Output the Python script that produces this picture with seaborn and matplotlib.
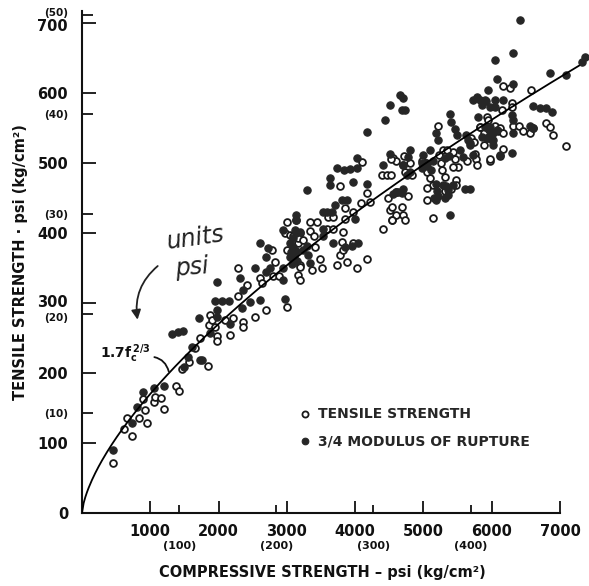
import numpy as np
import pandas as pd
import matplotlib
matplotlib.use("Agg")
import matplotlib.pyplot as plt
import matplotlib.transforms as mtransforms
import seaborn as sns

# ---------------- data (psi) ----------------
tensile_x = [450, 610, 730, 660, 830, 950, 920, 900, 1050, 1070, 1160, 1200, 1375, 1415, 1465, 1570, 1655, 1845, 1730, 1855, 1875,
             1900, 1950, 2095, 2210, 1970, 1970, 2165, 2360, 2360, 2530, 2700, 2290, 2410, 2290, 2600, 2640, 2790, 2830, 2780, 2880,
             3000, 3000, 2970, 3000, 3140, 3190, 3160, 3045, 3190, 3165, 3190,
             4095, 3780, 4170, 4215, 4080, 4390, 4460, 4530, 4560, 4720, 4485, 4510, 4680, 4700, 4535, 4410, 3340, 3440, 3600, 3680,
             3850, 3970, 3850, 3580, 3680, 3820, 3340, 3390, 3090, 3160, 3240, 3410, 3510, 3730, 3880, 4020, 4170, 3780, 3820, 3800,
             3970, 3480, 3190, 3370,
             5215, 5700, 5740, 5830, 5900, 5970, 5750, 5770, 5780, 5630, 5430, 5460, 5510, 5290, 5340, 5230, 5250, 5270, 5310, 5430,
             5480, 4980, 5030, 4600, 4700, 4800, 4520, 4730, 4830, 5050, 5140, 5100, 5320, 5400, 5480, 5140, 5050, 5050, 4770, 4600,
             4540, 4600, 4730, 4540,
             6580, 6170, 6270, 6290, 6290, 6150, 6310, 6400, 6460, 6560, 6610, 6800, 6850, 6900, 7090, 6050, 6120, 6090, 6170, 5925,
             5830, 5880, 6170, 6120, 5970, 5880, 5930, 5950]
tensile_y = [72, 120, 110, 135, 135, 128, 147, 162, 158, 166, 164, 148, 181, 174, 205, 216, 235, 210, 250, 268, 283,
             275, 266, 275, 278, 252, 245, 254, 273, 266, 280, 290, 309, 325, 349, 335, 328, 338, 358, 376, 338,
             294, 376, 399, 416, 418, 399, 385, 397, 354, 340, 333,
             501, 466, 456, 444, 442, 482, 482, 482, 506, 510, 449, 432, 437, 425, 418, 406, 416, 416, 422, 422,
             435, 430, 420, 406, 406, 401, 403, 395, 396, 392, 389, 380, 349, 354, 358, 349, 363, 368, 375, 387,
             385, 363, 351, 347,
             553, 535, 530, 551, 546, 503, 513, 505, 497, 503, 515, 505, 494, 518, 518, 511, 500, 490, 480, 494,
             475, 503, 500, 503, 497, 500, 505, 486, 482, 486, 468, 478, 460, 462, 468, 421, 464, 447, 453, 458,
             437, 425, 418, 418,
             603, 610, 607, 585, 580, 575, 552, 552, 545, 542, 549, 557, 551, 540, 524, 553, 550, 545, 543, 565,
             551, 542, 520, 510, 505, 525, 535, 561]

rupture_x = [450, 730, 805, 900, 1050, 1200, 1490, 1550, 1610, 1730, 1320, 1400, 1480, 1710, 1875,
             1970, 1950, 2050, 2150, 1970, 1970, 2170, 1750, 2340, 2460, 2600, 2360, 2310, 2530, 2700, 2750, 2700, 2600, 2730,
             2950, 2970, 2950, 3045, 3045, 2950, 3140, 3140, 3090, 3090, 3240,
             3290, 3730, 3830, 3920, 4020, 4020, 3630, 3630, 3800, 3880, 3970, 4170, 4410, 4510, 4700, 4600, 4700, 3140, 3530,
             3580, 3710, 3660, 4000, 3530, 3530, 3120, 3190, 3290, 3140, 3060, 3100, 3150, 3070, 3310, 3340, 3680, 3850, 3950, 4040,
             4655, 4700, 4680, 4730, 4510, 4440, 4170, 5390, 5190, 5215, 5410, 5460, 5485, 5720, 5790, 5850, 5920, 5970, 5950, 6070,
             5800, 5620, 5650, 5680, 5970, 6070, 5970, 6020, 6120, 5680, 5730, 5530, 5580, 5370, 5320, 5090, 5140, 5000, 5040, 5110,
             5050, 4800, 4770, 4760, 4800, 4980, 4980, 5190, 5200, 5210, 5150, 5180, 5290, 5330, 5360, 5430, 5360, 5320, 5610, 5680,
             5390, 4630, 4690, 4560,
             6410, 6310, 6050, 7360, 7320, 6850, 7090, 6310, 5830, 5900, 6050, 6170, 6050, 6600, 6700, 6800, 6880, 6290, 6310, 6560,
             6600, 6310, 5900, 5960, 6020, 5860, 5930, 6000, 6020, 6290]
rupture_y = [90, 128, 151, 172, 178, 181, 209, 223, 237, 218, 255, 258, 260, 278, 257,
             330, 303, 303, 303, 290, 280, 270, 218, 292, 301, 304, 318, 335, 349, 344, 350, 366, 385, 378,
             332, 306, 350, 366, 385, 404, 425, 399, 392, 380, 375,
             461, 492, 490, 491, 492, 506, 478, 468, 447, 447, 473, 470, 496, 513, 496, 458, 462, 418, 430,
             430, 440, 430, 420, 406, 396, 404, 401, 381, 374, 372, 365, 360, 355, 368, 357, 385, 380, 381, 385,
             596, 592, 575, 575, 582, 561, 544, 570, 542, 532, 558, 548, 539, 590, 593, 582, 588, 580, 604, 620,
             565, 539, 532, 528, 551, 546, 537, 532, 511, 525, 511, 518, 508, 510, 507, 518, 503, 511, 500, 490,
             495, 518, 508, 482, 486, 493, 500, 470, 460, 452, 449, 447, 468, 466, 461, 468, 454, 449, 463, 463,
             425, 458, 456, 455,
             704, 656, 647, 651, 644, 628, 625, 612, 590, 589, 590, 589, 580, 581, 578, 578, 572, 568, 561, 553,
             549, 542, 551, 546, 542, 537, 535, 532, 525, 514]

# curve 1.7 fc^(2/3)
coef = 1.7
expo = 2.0 / 3.0
curve_max = 7280

psi_xticks = [1000, 2000, 3000, 4000, 5000, 6000, 7000]
kg_xticks = [100, 200, 300, 400]
psi_yticks = [0, 100, 200, 300, 400, 500, 600, 700]
kg_yticks = [10, 20, 30, 40, 50]
KG2PSI = 14.223

# ---------------- plot ----------------
sns.set_style("ticks")
plt.rcParams['font.family'] = ['DejaVu Sans']

fig = plt.figure(figsize=(5.89, 5.86), dpi=100)
W, H = 589, 586
x0, y0 = 82, 513
ax = fig.add_axes([x0 / W, (H - y0) / H, (584 - x0) / W, (y0 - 5) / H])

df_t = pd.DataFrame({"x": tensile_x, "y": tensile_y})
df_r = pd.DataFrame({"x": rupture_x, "y": rupture_y})

sns.scatterplot(data=df_t, x="x", y="y", ax=ax, marker="o", s=24, facecolor="white",
                edgecolor="#1a1a1a", linewidth=1.3, label="TENSILE STRENGTH", zorder=3, clip_on=False)
sns.scatterplot(data=df_r, x="x", y="y", ax=ax, marker="o", s=28, color="#262626",
                edgecolor="#262626", linewidth=0.8, label="3/4 MODULUS OF RUPTURE", zorder=3, clip_on=False)

fc = np.linspace(0, curve_max, 300)
sns.lineplot(x=fc, y=coef * fc ** expo, ax=ax, color="black", linewidth=1.3, zorder=4)

ax.set_xlim(0, 7350)
ax.set_ylim(0, 725)

sns.despine(ax=ax)
for s in ["left", "bottom"]:
    ax.spines[s].set_linewidth(1.5)
    ax.spines[s].set_color("#111111")
ax.spines["bottom"].set_bounds(0, 7000)
ax.spines["left"].set_bounds(0, 716)

ax.set_xticks(psi_xticks)
ax.set_xticklabels([str(v) for v in psi_xticks])
ax.set_xticks([v * KG2PSI for v in kg_xticks], minor=True)
ax.set_xticklabels([f"({v})" for v in kg_xticks], minor=True)
ax.set_yticks(psi_yticks)
ax.set_yticklabels([str(v) for v in psi_yticks])
ax.set_yticks([v * KG2PSI for v in kg_yticks], minor=True)
ax.set_yticklabels([f"({v})" for v in kg_yticks], minor=True)

ax.tick_params(axis="x", which="major", direction="in", length=9, width=1.3,
               labelsize=10.5, pad=8, colors="#111111")
ax.tick_params(axis="x", which="minor", direction="in", length=6, width=1.3,
               labelsize=8, pad=20, colors="#111111")
ax.tick_params(axis="y", which="major", direction="in", length=10, width=1.3,
               labelsize=10.5, pad=10, colors="#111111")
ax.tick_params(axis="y", which="minor", direction="in", length=8, width=1.3,
               labelsize=7.5, pad=10, colors="#111111")
for lab in ax.get_xticklabels(which="both") + ax.get_yticklabels(which="both"):
    lab.set_fontweight("bold")

# small vertical nudges so that neighbouring psi / kg labels do not collide
nudges_minor = {50: 3, 20: -3}
nudges_major = {700: -2, 300: 2}
for lab, v in zip(ax.yaxis.get_minorticklabels(), kg_yticks):
    if v in nudges_minor:
        lab.set_transform(lab.get_transform() + mtransforms.ScaledTranslation(0, nudges_minor[v] / 100, fig.dpi_scale_trans))
for lab, v in zip(ax.yaxis.get_majorticklabels(), psi_yticks):
    if v in nudges_major:
        lab.set_transform(lab.get_transform() + mtransforms.ScaledTranslation(0, nudges_major[v] / 100, fig.dpi_scale_trans))

ax.set_xlabel("")
ax.set_ylabel("")

fig.text(322 / W, 1 - 573 / H, "COMPRESSIVE STRENGTH – psi (kg/cm²)", ha="center", va="center",
         fontsize=10.5, fontweight="bold", color="#111111")
fig.text(21 / W, 1 - 262 / H, "TENSILE STRENGTH · psi (kg/cm²)", ha="center", va="center",
         rotation=90, fontsize=10.5, fontweight="bold", color="#111111")

# legend
leg = ax.legend(loc="upper left", bbox_to_anchor=(291 / W, 1 - 400 / H), bbox_transform=fig.transFigure,
                frameon=False, handletextpad=0.45, labelspacing=0.95, borderpad=0, handlelength=1.0,
                prop={"size": 10, "weight": "bold"}, markerscale=0.9)

# annotations
ax.annotate(r"1.7f$_\mathbf{c}^{\,\mathbf{2/3}}$", xy=(1270, 202), xytext=(270, 228),
            fontsize=10, fontweight="bold", ha="left", va="center", color="#111111",
            arrowprops=dict(arrowstyle="-", color="#111111", lw=1.3,
                            connectionstyle="arc3,rad=-0.35", shrinkA=0, shrinkB=0,
                            relpos=(1.0, 0.35)))
ax.text(1660, 392, "units", fontsize=17, fontstyle="italic", rotation=8,
        ha="center", va="center", color="#222222")
ax.text(1610, 350, "psi", fontsize=17, fontstyle="italic", rotation=5,
        ha="center", va="center", color="#222222")
ax.annotate("", xy=(820, 272), xytext=(1140, 355),
            arrowprops=dict(arrowstyle="-|>", color="#222222", lw=1.3, mutation_scale=14,
                            connectionstyle="arc3,rad=0.3"))

fig.savefig("out.png", dpi=100, facecolor="white")
